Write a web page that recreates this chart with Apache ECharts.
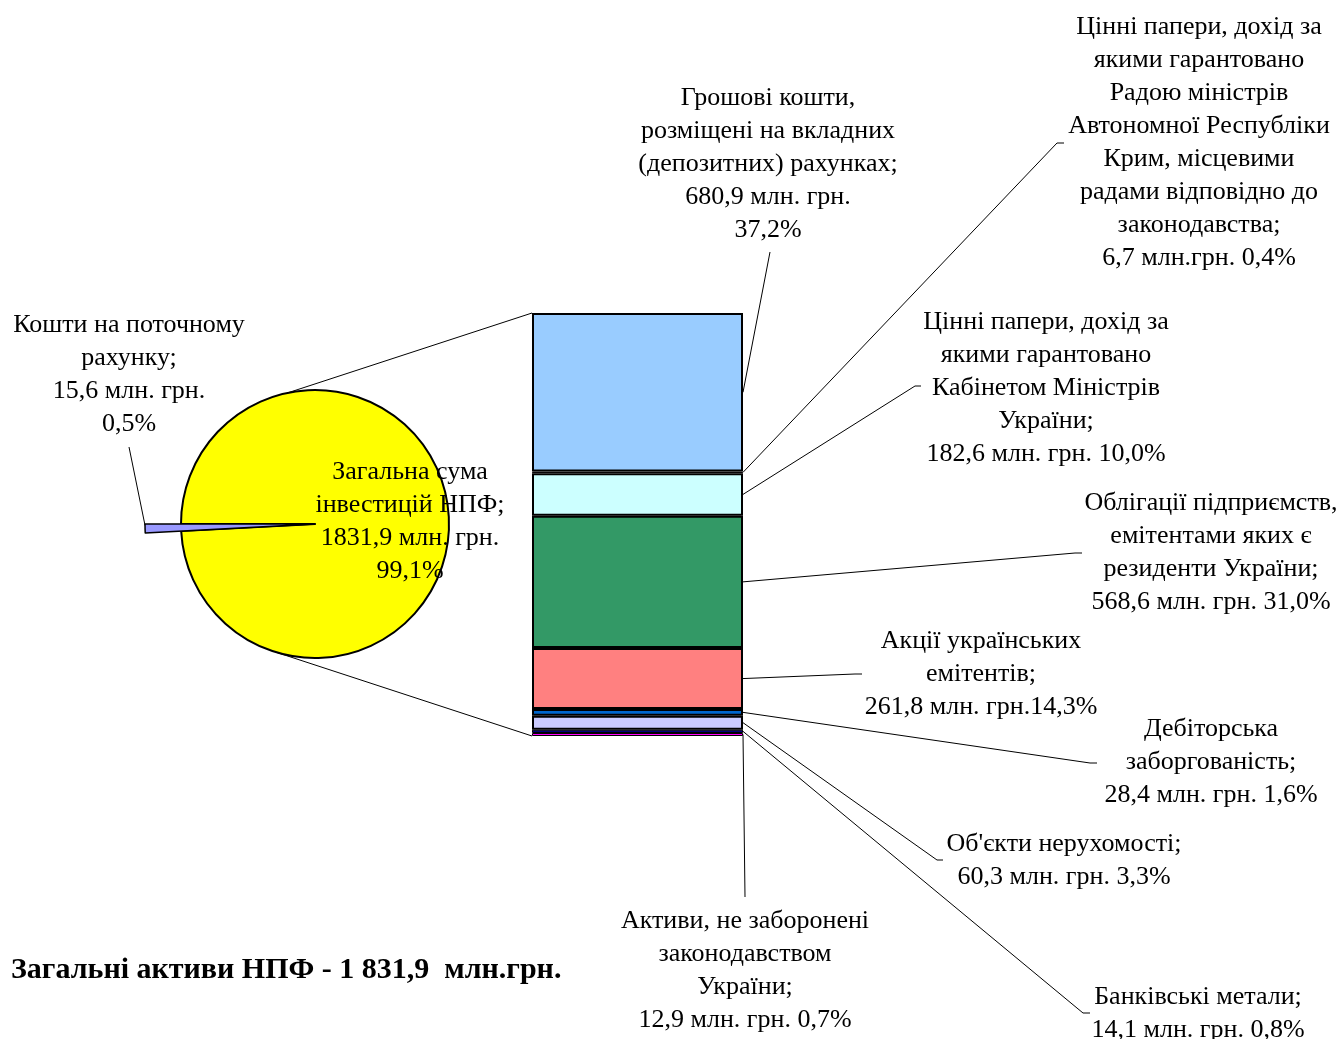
<!DOCTYPE html>
<html>
<head>
<meta charset="utf-8">
<script src="https://cdn.jsdelivr.net/npm/echarts@6/dist/echarts.min.js"></script>
<style>html,body{margin:0;padding:0;background:#fff;}#c{width:1341px;height:1039px;}</style>
</head>
<body>
<div id="c"></div>
<script>
// ---- DATA ----
const pieNames = ['Кошти на поточному\nрахунку;', 'Загальна сума\nінвестицій НПФ;'];
const pieValues = [15.6, 1831.9];
const pieShares = ['0,5%', '99,1%'];

// bar (stack) items, from bottom to top
const barNames = [
  'Активи, не заборонені\nзаконодавством\nУкраїни;',
  'Банківські метали;',
  "Об'єкти нерухомості;",
  'Дебіторська\nзаборгованість;',
  'Акції українських\nемітентів;',
  'Облігації підприємств,\nемітентами яких є\nрезиденти України;',
  'Цінні папери, дохід за\nякими гарантовано\nКабінетом Міністрів\nУкраїни;',
  'Цінні папери, дохід за\nякими гарантовано\nРадою міністрів\nАвтономної Республіки\nКрим, місцевими\nрадами відповідно до\nзаконодавства;',
  'Грошові кошти,\nрозміщені на вкладних\n(депозитних) рахунках;'
];
const barValues = [12.9, 14.1, 60.3, 28.4, 261.8, 568.6, 182.6, 6.7, 680.9];
const barShares = ['0,7%', '0,8%', '3,3%', '1,6%', '14,3%', '31,0%', '10,0%', '0,4%', '37,2%'];
const totalTitle = 'Загальні активи НПФ - 1 831,9  млн.грн.';

// ---- STYLE / LAYOUT ----
const FONT = '"Liberation Serif", "Times New Roman", serif';
const FS = 26, LH = 33;
const barColors = ['#FF00FF', '#000080', '#CCCCFF', '#0066CC', '#FF8080', '#339966', '#CCFFFF', '#993366', '#99CCFF'];
const barBorders = [1, 1, 2, 2, 2, 2, 2, 1, 2];
const barUnits = ['млн. грн.', 'млн. грн.', 'млн. грн.', 'млн. грн.', 'млн. грн.', 'млн. грн.', 'млн. грн.', 'млн.грн.', 'млн. грн.'];
const barSeps = [' ', ' ', ' ', ' ', '', ' ', ' ', ' ', '\n'];
// label positions: [centerX, topY]
const barLabelPos = [[745, 905], [1198, 981], [1064, 828], [1211, 713], [981, 625], [1211, 487], [1046, 306], [1199, 11], [768, 82]];
// leader line end points (polyline after the bar edge)
const barLeader = [
  [[745, 897]],
  [[1083, 1013], [1090, 1013]],
  [[937, 860], [943, 860]],
  [[1090, 763], [1097, 763]],
  [[855, 674], [862, 674]],
  [[1075, 553], [1082, 553]],
  [[915, 386], [921, 386]],
  [[1057, 143], [1064, 143]],
  [[770, 252]]
];
const GRID = {left: 532, top: 313, width: 211, height: 423};
const PIE_C = [315, 524], PIE_R = 134, SLICE_R = 170;

const fmt = v => v.toFixed(1).replace('.', ',');
const stackTotal = barValues.reduce((a, b) => a + b, 0);
const textStyle = {color: '#000', fontFamily: FONT, fontSize: FS, lineHeight: LH, align: 'center', overflow: 'none'};

const series = [];
barValues.forEach((v, i) => {
  series.push({
    type: 'bar', name: barNames[i], stack: 's', barWidth: '100%',
    data: [v],
    itemStyle: {color: barColors[i], borderColor: '#000', borderWidth: barBorders[i]},
    label: Object.assign({
      show: true, position: 'right',
      formatter: () => barNames[i] + '\n' + fmt(v) + ' ' + barUnits[i] + barSeps[i] + barShares[i]
    }, textStyle),
    labelLayout: {x: barLabelPos[i][0], y: barLabelPos[i][1], align: 'center', verticalAlign: 'top'},
    silent: true
  });
});

// pie: main (yellow) body
series.push({
  type: 'pie', center: PIE_C, radius: [0, PIE_R], startAngle: 180, clockwise: false, silent: true,
  data: [
    {value: pieValues[0], name: pieNames[0], itemStyle: {color: 'rgba(0,0,0,0)', borderWidth: 0}, label: {show: false}, labelLine: {show: false}},
    {value: pieValues[1], name: pieNames[1], itemStyle: {color: '#FFFF00', borderColor: '#000', borderWidth: 2},
     label: {show: true, formatter: () => pieNames[1] + '\n' + fmt(pieValues[1]) + ' млн. грн.\n' + pieShares[1]}}
  ],
  label: Object.assign({position: 'inside'}, textStyle),
  labelLayout: {x: 410, y: 456, align: 'center', verticalAlign: 'top'},
  labelLine: {show: false}
});
// pie: exploded small slice
series.push({
  type: 'pie', center: PIE_C, radius: [0, SLICE_R], startAngle: 180, clockwise: false, silent: true,
  data: [
    {value: pieValues[0], name: pieNames[0], itemStyle: {color: '#9999FF', borderColor: '#000', borderWidth: 1.5},
     label: {show: true, formatter: () => pieNames[0] + '\n' + fmt(pieValues[0]) + ' млн. грн.\n' + pieShares[0]}},
    {value: pieValues[1], name: pieNames[1], itemStyle: {color: 'rgba(0,0,0,0)', borderWidth: 0}, label: {show: false}, labelLine: {show: false}}
  ],
  label: Object.assign({position: 'inside'}, textStyle),
  labelLayout: {x: 129, y: 309, align: 'center', verticalAlign: 'top'},
  labelLine: {show: false}
});

const chart = echarts.init(document.getElementById('c'), null, {renderer: 'canvas'});
chart.setOption({
  animation: false,
  backgroundColor: '#fff',
  title: {text: totalTitle, left: 11, top: 955, padding: 0, textStyle: {fontFamily: FONT, fontSize: 30, fontWeight: 'bold', color: '#000'}},
  grid: GRID,
  xAxis: {type: 'category', data: [''], show: false},
  yAxis: {type: 'value', min: 0, max: stackTotal, show: false},
  series: series
});

// leader and connector lines derived from the axes / pie geometry
const graphics = [];
const lineStyle = {stroke: '#000', lineWidth: 1, fill: null};
const barRight = GRID.left + GRID.width;
let cum = 0;
barValues.forEach((v, i) => {
  const yMid = chart.convertToPixel({yAxisIndex: 0}, cum + v / 2);
  cum += v;
  const pts = [[barRight, yMid]].concat(barLeader[i]);
  graphics.push({type: 'polyline', shape: {points: pts}, style: lineStyle, silent: true});
});
// pie slice leader
const sa = (pieValues[0] / (pieValues[0] + pieValues[1])) * Math.PI;
const sp = [PIE_C[0] - SLICE_R * Math.cos(sa), PIE_C[1] + SLICE_R * Math.sin(sa)];
graphics.push({type: 'polyline', shape: {points: [[sp[0], sp[1] - 3], [129, 447]]}, style: lineStyle, silent: true});
// pie -> bar connectors
const yTop = chart.convertToPixel({yAxisIndex: 0}, stackTotal);
const yBot = chart.convertToPixel({yAxisIndex: 0}, 0);
const aTop = 101.6 * Math.PI / 180, aBot = 253 * Math.PI / 180;
graphics.push({type: 'line', shape: {x1: PIE_C[0] + PIE_R * Math.cos(aTop), y1: PIE_C[1] - PIE_R * Math.sin(aTop), x2: GRID.left, y2: yTop}, style: lineStyle, silent: true});
graphics.push({type: 'line', shape: {x1: PIE_C[0] + PIE_R * Math.cos(aBot), y1: PIE_C[1] - PIE_R * Math.sin(aBot), x2: GRID.left, y2: yBot}, style: lineStyle, silent: true});
chart.setOption({graphic: graphics});
</script>
</body>
</html>
